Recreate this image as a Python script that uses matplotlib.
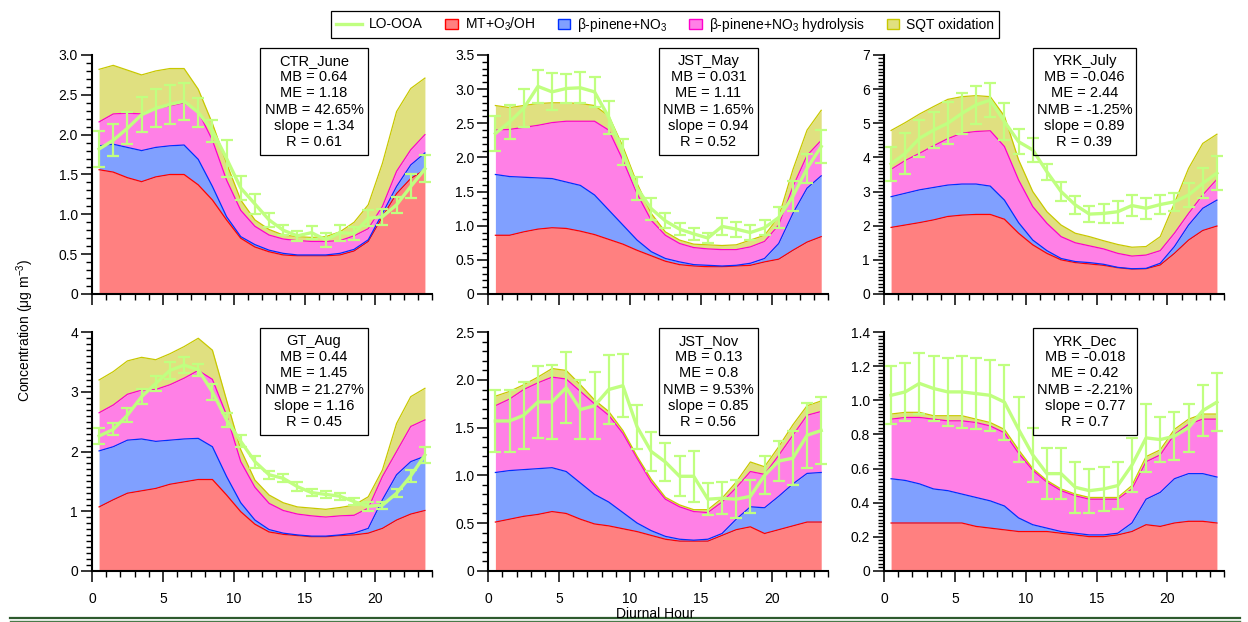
import numpy as np
import matplotlib
matplotlib.use("Agg")
import matplotlib.pyplot as plt
from matplotlib.patches import Rectangle, Patch
from matplotlib.lines import Line2D
from matplotlib.legend_handler import HandlerPatch
from matplotlib.ticker import MultipleLocator, FuncFormatter

plt.rcParams["font.family"] = ["Liberation Sans", "DejaVu Sans"]
plt.rcParams["mathtext.fontset"] = "custom"
plt.rcParams["mathtext.rm"] = "Liberation Sans"
plt.rcParams["mathtext.it"] = "Liberation Sans:italic"
plt.rcParams["mathtext.default"] = "regular"

hours = np.arange(24) + 0.5

# stacked tops: MT, +b-pinene+NO3, +hydrolysis, +SQT ; observed LO-OOA with error
ctr_mt = [1.56, 1.53, 1.46, 1.41, 1.47, 1.50, 1.50, 1.37, 1.18, 0.93, 0.70, 0.59, 0.53, 0.49, 0.48, 0.48, 0.48, 0.49, 0.54, 0.66, 0.97, 1.26, 1.45, 1.56]
ctr_bp = [1.86, 1.88, 1.84, 1.80, 1.84, 1.86, 1.87, 1.69, 1.35, 0.97, 0.72, 0.62, 0.55, 0.51, 0.49, 0.49, 0.49, 0.51, 0.56, 0.68, 1.01, 1.35, 1.62, 1.77]
ctr_hy = [2.16, 2.26, 2.27, 2.26, 2.33, 2.36, 2.40, 2.29, 1.93, 1.43, 1.05, 0.85, 0.74, 0.69, 0.67, 0.66, 0.66, 0.67, 0.73, 0.82, 1.10, 1.54, 1.81, 2.00]
ctr_sq = [2.82, 2.87, 2.81, 2.75, 2.80, 2.83, 2.83, 2.57, 2.14, 1.64, 1.18, 0.93, 0.81, 0.74, 0.72, 0.71, 0.72, 0.78, 0.90, 1.12, 1.64, 2.29, 2.58, 2.71]
ctr_obs = [1.82, 1.93, 2.08, 2.25, 2.33, 2.38, 2.42, 2.28, 2.05, 1.70, 1.33, 1.13, 0.93, 0.80, 0.73, 0.77, 0.68, 0.77, 0.76, 0.95, 0.97, 1.12, 1.35, 1.57]
ctr_err = [0.22, 0.20, 0.20, 0.22, 0.24, 0.24, 0.23, 0.18, 0.14, 0.23, 0.15, 0.12, 0.09, 0.06, 0.06, 0.08, 0.09, 0.10, 0.08, 0.10, 0.10, 0.10, 0.15, 0.17]

may_mt = [0.86, 0.86, 0.91, 0.95, 0.97, 0.96, 0.92, 0.87, 0.80, 0.73, 0.64, 0.56, 0.48, 0.43, 0.41, 0.40, 0.40, 0.41, 0.42, 0.47, 0.51, 0.64, 0.76, 0.84]
may_bp = [1.75, 1.72, 1.71, 1.70, 1.69, 1.64, 1.59, 1.45, 1.23, 1.01, 0.79, 0.62, 0.52, 0.47, 0.43, 0.42, 0.41, 0.42, 0.45, 0.52, 0.74, 1.18, 1.55, 1.73]
may_hy = [2.40, 2.41, 2.44, 2.47, 2.51, 2.53, 2.53, 2.53, 2.40, 1.96, 1.47, 1.08, 0.86, 0.74, 0.68, 0.66, 0.65, 0.65, 0.69, 0.77, 1.01, 1.57, 2.03, 2.25]
may_sq = [2.76, 2.73, 2.76, 2.79, 2.80, 2.80, 2.79, 2.76, 2.61, 2.16, 1.62, 1.18, 0.91, 0.79, 0.73, 0.72, 0.71, 0.72, 0.79, 0.86, 1.13, 1.82, 2.40, 2.69]
may_obs = [2.35, 2.52, 2.72, 3.04, 2.96, 3.01, 3.02, 2.96, 2.59, 2.08, 1.55, 1.25, 1.07, 0.95, 0.88, 0.82, 0.99, 0.95, 0.90, 0.97, 1.12, 1.43, 1.84, 2.16]
may_err = [0.26, 0.25, 0.28, 0.24, 0.27, 0.21, 0.23, 0.22, 0.24, 0.19, 0.17, 0.16, 0.11, 0.09, 0.09, 0.07, 0.12, 0.11, 0.11, 0.11, 0.16, 0.22, 0.21, 0.24]

jul_mt = [1.95, 2.02, 2.09, 2.17, 2.27, 2.31, 2.33, 2.33, 2.19, 1.78, 1.44, 1.19, 1.00, 0.92, 0.88, 0.84, 0.77, 0.73, 0.74, 0.85, 1.19, 1.58, 1.86, 1.99]
jul_bp = [2.85, 2.95, 3.05, 3.12, 3.19, 3.22, 3.22, 3.16, 2.75, 2.09, 1.58, 1.27, 1.04, 0.95, 0.92, 0.87, 0.78, 0.74, 0.75, 0.90, 1.39, 2.02, 2.51, 2.75]
jul_hy = [3.65, 3.91, 4.12, 4.34, 4.55, 4.71, 4.76, 4.78, 4.32, 3.34, 2.56, 2.07, 1.68, 1.50, 1.41, 1.32, 1.19, 1.11, 1.14, 1.27, 1.78, 2.36, 2.90, 3.36]
jul_sq = [4.79, 5.02, 5.27, 5.49, 5.70, 5.78, 5.81, 5.78, 5.21, 3.93, 3.00, 2.41, 2.02, 1.78, 1.68, 1.56, 1.45, 1.37, 1.39, 1.68, 2.66, 3.68, 4.41, 4.68]
jul_obs = [3.81, 4.12, 4.56, 4.80, 5.00, 5.29, 5.54, 5.68, 5.05, 4.46, 4.22, 3.58, 3.00, 2.61, 2.34, 2.36, 2.41, 2.59, 2.51, 2.62, 2.70, 2.90, 3.24, 3.54]
jul_err = [0.49, 0.60, 0.55, 0.53, 0.61, 0.61, 0.56, 0.49, 0.54, 0.37, 0.34, 0.24, 0.29, 0.27, 0.23, 0.28, 0.32, 0.30, 0.30, 0.28, 0.26, 0.36, 0.44, 0.50]

aug_mt = [1.07, 1.19, 1.30, 1.34, 1.38, 1.45, 1.49, 1.53, 1.53, 1.27, 0.99, 0.78, 0.65, 0.61, 0.59, 0.57, 0.57, 0.59, 0.60, 0.63, 0.71, 0.85, 0.95, 1.01]
aug_bp = [2.01, 2.08, 2.19, 2.21, 2.17, 2.19, 2.21, 2.22, 2.08, 1.58, 1.14, 0.85, 0.69, 0.63, 0.60, 0.58, 0.58, 0.60, 0.63, 0.71, 1.19, 1.61, 1.83, 1.92]
aug_hy = [2.65, 2.78, 2.96, 3.03, 3.04, 3.12, 3.23, 3.36, 3.21, 2.61, 1.83, 1.40, 1.13, 1.01, 0.95, 0.92, 0.90, 0.92, 0.93, 1.05, 1.58, 2.00, 2.42, 2.53]
aug_sq = [3.20, 3.34, 3.52, 3.58, 3.54, 3.64, 3.76, 3.90, 3.70, 2.86, 2.03, 1.52, 1.27, 1.14, 1.07, 1.05, 1.03, 1.06, 1.10, 1.24, 1.69, 2.47, 2.92, 3.06]
aug_obs = [2.26, 2.37, 2.61, 2.92, 3.14, 3.36, 3.45, 3.37, 3.00, 2.53, 2.17, 1.83, 1.61, 1.55, 1.41, 1.31, 1.28, 1.25, 1.16, 1.08, 1.10, 1.30, 1.59, 1.94]
aug_err = [0.13, 0.10, 0.12, 0.13, 0.12, 0.14, 0.14, 0.10, 0.13, 0.12, 0.10, 0.10, 0.07, 0.07, 0.07, 0.06, 0.06, 0.06, 0.06, 0.08, 0.06, 0.07, 0.10, 0.14]

nov_mt = [0.51, 0.54, 0.57, 0.59, 0.62, 0.60, 0.54, 0.49, 0.47, 0.44, 0.41, 0.37, 0.33, 0.31, 0.31, 0.31, 0.37, 0.43, 0.46, 0.39, 0.43, 0.47, 0.51, 0.51]
nov_bp = [1.03, 1.05, 1.06, 1.07, 1.08, 1.04, 0.92, 0.80, 0.72, 0.61, 0.50, 0.42, 0.36, 0.33, 0.32, 0.33, 0.39, 0.54, 0.67, 0.66, 0.78, 0.91, 1.02, 1.03]
nov_hy = [1.73, 1.80, 1.90, 1.97, 2.03, 2.01, 1.88, 1.75, 1.63, 1.44, 1.18, 0.93, 0.75, 0.67, 0.62, 0.61, 0.72, 0.87, 1.04, 1.01, 1.21, 1.42, 1.63, 1.67]
nov_sq = [1.83, 1.88, 1.95, 2.03, 2.12, 2.10, 1.95, 1.79, 1.67, 1.47, 1.20, 0.96, 0.77, 0.69, 0.64, 0.64, 0.76, 0.93, 1.14, 1.09, 1.30, 1.53, 1.73, 1.78]
nov_obs = [1.57, 1.57, 1.63, 1.77, 1.77, 1.92, 1.69, 1.73, 1.90, 1.94, 1.51, 1.25, 1.14, 0.99, 0.99, 0.75, 0.76, 0.75, 0.78, 1.00, 1.15, 1.18, 1.42, 1.47]
nov_err = [0.32, 0.33, 0.35, 0.38, 0.39, 0.37, 0.31, 0.35, 0.36, 0.33, 0.23, 0.20, 0.20, 0.21, 0.27, 0.17, 0.17, 0.20, 0.17, 0.20, 0.21, 0.28, 0.34, 0.35]

dec_mt = [0.28, 0.28, 0.28, 0.28, 0.28, 0.28, 0.26, 0.25, 0.24, 0.23, 0.23, 0.23, 0.22, 0.21, 0.20, 0.20, 0.21, 0.23, 0.27, 0.26, 0.28, 0.29, 0.29, 0.28]
dec_bp = [0.54, 0.53, 0.51, 0.48, 0.47, 0.45, 0.43, 0.41, 0.38, 0.31, 0.27, 0.25, 0.23, 0.22, 0.21, 0.21, 0.22, 0.28, 0.42, 0.46, 0.54, 0.57, 0.57, 0.55]
dec_hy = [0.89, 0.90, 0.90, 0.89, 0.88, 0.88, 0.87, 0.85, 0.81, 0.69, 0.59, 0.52, 0.47, 0.44, 0.42, 0.42, 0.42, 0.48, 0.64, 0.68, 0.80, 0.86, 0.89, 0.89]
dec_sq = [0.92, 0.93, 0.93, 0.91, 0.91, 0.91, 0.89, 0.87, 0.83, 0.71, 0.60, 0.53, 0.48, 0.45, 0.43, 0.43, 0.43, 0.50, 0.67, 0.71, 0.83, 0.89, 0.92, 0.92]
dec_obs = [1.03, 1.05, 1.10, 1.07, 1.05, 1.05, 1.04, 1.03, 0.99, 0.83, 0.68, 0.57, 0.57, 0.49, 0.47, 0.48, 0.50, 0.62, 0.78, 0.77, 0.79, 0.84, 0.94, 0.99]
dec_err = [0.17, 0.17, 0.18, 0.19, 0.20, 0.21, 0.21, 0.21, 0.22, 0.19, 0.16, 0.15, 0.15, 0.15, 0.13, 0.13, 0.14, 0.16, 0.20, 0.13, 0.14, 0.14, 0.15, 0.17]

sites = ["CTR_June", "JST_May", "YRK_July", "GT_Aug", "JST_Nov", "YRK_Dec"]
mb = ["0.64", "0.031", "-0.046", "0.44", "0.13", "-0.018"]
me = ["1.18", "1.11", "2.44", "1.45", "0.8", "0.42"]
nmb = ["42.65%", "1.65%", "-1.25%", "21.27%", "9.53%", "-2.21%"]
slope = ["1.34", "0.94", "0.89", "1.16", "0.85", "0.77"]
r_val = ["0.61", "0.52", "0.39", "0.45", "0.56", "0.7"]

stacks = [
    (ctr_mt, ctr_bp, ctr_hy, ctr_sq, ctr_obs, ctr_err),
    (may_mt, may_bp, may_hy, may_sq, may_obs, may_err),
    (jul_mt, jul_bp, jul_hy, jul_sq, jul_obs, jul_err),
    (aug_mt, aug_bp, aug_hy, aug_sq, aug_obs, aug_err),
    (nov_mt, nov_bp, nov_hy, nov_sq, nov_obs, nov_err),
    (dec_mt, dec_bp, dec_hy, dec_sq, dec_obs, dec_err),
]

# y axis: max, major step, minor step
yaxes = [(3.0, 0.5, 0.1), (3.5, 0.5, 0.1), (7, 1, 0.1),
         (4, 1, 0.1), (2.5, 0.5, 0.1), (1.4, 0.2, 0.02)]

fills = ["#ff8080", "#80a0ff", "#ff80e6", "#e0e080"]
edges = ["#ff0000", "#0030ff", "#ff00cc", "#c8c800"]
obs_col = "#c0ff80"

W, H = 1248, 622
fig = plt.figure(figsize=(W / 100, H / 100), dpi=100)

lefts = [92, 488.3, 884]
rows = [(55, 294), (332.3, 570.7)]
# stat boxes (pixels): x0, x1, y0, y1
boxes = [(260, 368, 48, 155), (659, 758, 48, 155), (1033, 1136, 48, 155),
         (260, 368, 328, 435), (659, 758, 328, 435), (1033, 1137, 328, 435)]

for i in range(6):
    r, c = divmod(i, 3)
    top, bot = rows[r]
    ax = fig.add_axes([lefts[c] / W, 1 - bot / H, 340 / W, (bot - top) / H])
    mt, bp, hy, sq, obs, err = stacks[i]
    layers = [np.zeros(24), mt, bp, hy, sq]
    for k in range(4):
        ax.fill_between(hours, layers[k], layers[k + 1], color=fills[k], lw=0, zorder=1)
    for k in range(4):
        ax.plot(hours, layers[k + 1], color=edges[k], lw=0.9, zorder=2)
    ax.errorbar(hours, obs, yerr=err, color=obs_col, lw=2.4, elinewidth=1.6,
                capsize=4.5, capthick=1.6, zorder=4)

    ymax, maj, mnr = yaxes[i]
    ax.set_xlim(0, 24)
    ax.set_ylim(0, ymax)
    ax.xaxis.set_major_locator(MultipleLocator(5))
    ax.xaxis.set_minor_locator(MultipleLocator(1))
    ax.yaxis.set_major_locator(MultipleLocator(maj))
    ax.yaxis.set_minor_locator(MultipleLocator(mnr))
    if maj >= 1:
        ax.yaxis.set_major_formatter(FuncFormatter(lambda v, p: "%d" % round(v)))
    else:
        ax.yaxis.set_major_formatter(FuncFormatter(lambda v, p: "0" if abs(v) < 1e-9 else "%.1f" % v))
    for s in ["top", "right"]:
        ax.spines[s].set_visible(False)
    for s in ["left", "bottom"]:
        ax.spines[s].set_linewidth(1.5)
    ax.tick_params(which="major", direction="out", length=8, width=1.1, labelsize=10, pad=2)
    ax.tick_params(which="minor", direction="out", length=4.5, width=1.0)
    ax.tick_params(axis="x", which="major", pad=7)
    if r == 0:
        ax.tick_params(axis="x", labelbottom=False)

    x0, x1, y0, y1 = boxes[i]
    fig.add_artist(Rectangle((x0 / W, 1 - y1 / H), (x1 - x0) / W, (y1 - y0) / H,
                             transform=fig.transFigure, fill=False, ec="black", lw=0.9))
    txt = "%s\nMB = %s\nME = %s\nNMB = %s\nslope = %s\nR = %s" % (
        sites[i], mb[i], me[i], nmb[i], slope[i], r_val[i])
    fig.text((x0 + x1) / 2 / W, 1 - (y0 + y1) / 2 / H, txt, ha="center", va="center",
             multialignment="center", fontsize=10.5, linespacing=1.2)


class SmallPatch(HandlerPatch):
    def create_artists(self, legend, orig, xdescent, ydescent, width, height, fontsize, trans):
        pw = height * 1.25
        p = Rectangle((xdescent + width - pw, -ydescent), pw, height,
                      fc=orig.get_facecolor(), ec=orig.get_edgecolor(), lw=1.0, transform=trans)
        return [p]


labels = ["LO-OOA", "MT+O$_3$/OH", "β-pinene+NO$_3$", "β-pinene+NO$_3$ hydrolysis", "SQT oxidation"]
handles = [Line2D([], [], color=obs_col, lw=2.4)]
for k in range(4):
    handles.append(Patch(fc=fills[k], ec=edges[k]))
leg = fig.legend(handles, labels, loc="center", bbox_to_anchor=(665 / W, 1 - 24.5 / H),
                 ncol=5, fontsize=10, frameon=True, fancybox=False, edgecolor="black",
                 framealpha=1, borderpad=0.35, columnspacing=0.6, handletextpad=0.5,
                 handlelength=1.9, handler_map={Patch: SmallPatch()})
leg.get_frame().set_linewidth(0.9)

fig.text(25 / W, 1 - 330 / H, "Concentration (μg m$^{-3}$)", rotation=90,
         ha="center", va="center", fontsize=10)
fig.text(655 / W, 1 - 614 / H, "Diurnal Hour", ha="center", va="center", fontsize=10)
fig.add_artist(Line2D([10 / W, 1240 / W], [1 - 617.5 / H] * 2, color="#2d5a2d", lw=1.6))
fig.add_artist(Line2D([10 / W, 1240 / W], [1 - 620.5 / H] * 2, color="#4a7a4a", lw=1.0))

fig.savefig("out.png", dpi=100)
